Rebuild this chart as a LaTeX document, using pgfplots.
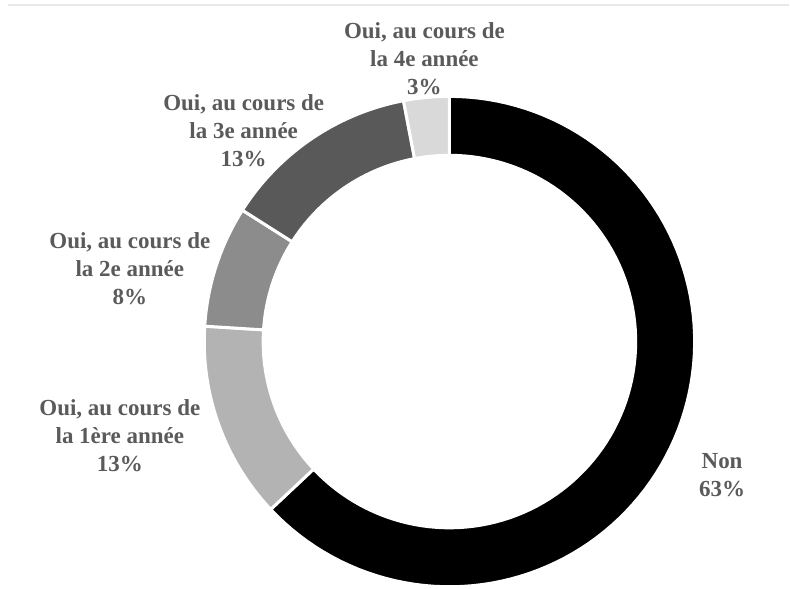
\documentclass[border=0pt]{standalone}
\usepackage{pgfplots}
\pgfplotsset{compat=1.18}
\usepackage{fontspec}
\setmainfont{Liberation Serif}
\definecolor{txt}{HTML}{5A5A5A}
\definecolor{cnon}{HTML}{000000}
\definecolor{cone}{HTML}{B3B3B3}
\definecolor{ctwo}{HTML}{8C8C8C}
\definecolor{cthree}{HTML}{595959}
\definecolor{cfour}{HTML}{D9D9D9}
\tikzset{lbl/.style={font=\fontsize{23}{28}\selectfont\bfseries, text=txt, align=center}}
% slice: cumulative start %, cumulative end %, colour
\newcommand{\donutslice}[3]{%
  \addplot[fill=#3, draw=white, line width=3pt, line join=miter,
    samples at={0,1,...,201}, variable=\t]
  ({450 + ((\t<=100) ? 245.5 : 186.5)*cos(90-3.6*(#1 + (#2-#1)*((\t<=100) ? \t/100 : (201-\t)/100)))},
   {247 + ((\t<=100) ? 245.5 : 186.5)*sin(90-3.6*(#1 + (#2-#1)*((\t<=100) ? \t/100 : (201-\t)/100)))}) -- cycle;
}
\begin{document}
\begin{tikzpicture}
\begin{axis}[x=1pt, y=1pt, xmin=0, xmax=790, ymin=0, ymax=589,
  hide axis, scale only axis, clip=false]
\addplot[draw=none] coordinates {(0,0) (790,589)};
\addplot[color=gray!18, line width=2pt] coordinates {(8,584) (790,584)};
% Non 63, 1ere 13, 2e 8, 3e 13, 4e 3
\donutslice{0}{63}{cnon}
\donutslice{63}{76}{cone}
\donutslice{76}{84}{ctwo}
\donutslice{84}{97}{cthree}
\donutslice{97}{100}{cfour}
\node[lbl] at (axis cs:425,530) {Oui, au cours de\\la 4e année\\3\%};
\node[lbl] at (axis cs:244,458) {Oui, au cours de\\la 3e année\\13\%};
\node[lbl] at (axis cs:130,320) {Oui, au cours de\\la 2e année\\8\%};
\node[lbl] at (axis cs:120,153) {Oui, au cours de\\la 1ère année\\13\%};
\node[lbl] at (axis cs:723,113) {Non\\63\%};
\end{axis}
\end{tikzpicture}
\end{document}
